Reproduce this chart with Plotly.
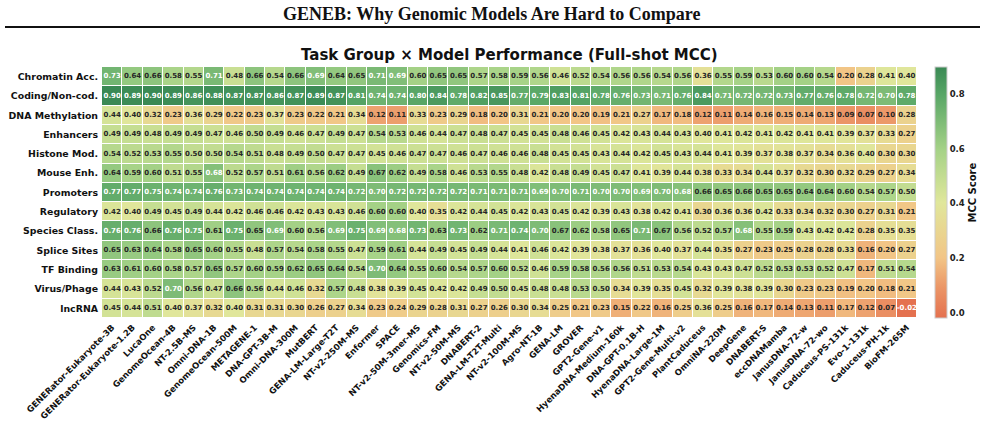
import plotly.graph_objects as go

models = ["GENERator-Eukaryote-3B", "GENERator-Eukaryote-1.2B", "LucaOne", "GenomeOcean-4B",
          "NT-2.5B-MS", "Omni-DNA-1B", "GenomeOcean-500M", "METAGENE-1", "DNA-GPT-3B-M",
          "Omni-DNA-300M", "MutBERT", "GENA-LM-Large-T2T", "NT-v2-250M-MS", "Enformer", "SPACE",
          "NT-v2-50M-3mer-MS", "Genomics-FM", "NT-v2-50M-MS", "DNABERT-2", "GENA-LM-T2T-Multi",
          "NT-v2-100M-MS", "Agro-NT-1B", "GENA-LM", "GROVER", "GPT2-Gene-v1",
          "HyenaDNA-Medium-160k", "DNA-GPT-0.1B-H", "HyenaDNA-Large-1M", "GPT2-Gene-Multi-v2",
          "PlantCaduceus", "OmniNA-220M", "DeepGene", "DNABERT-S", "eccDNAMamba",
          "JanusDNA-72-w", "JanusDNA-72-wo", "Caduceus-PS-131k", "Evo-1-131k",
          "Caduceus-PH-1k", "BioFM-265M"]

tasks = ["Chromatin Acc.", "Coding/Non-cod.", "DNA Methylation", "Enhancers", "Histone Mod.",
         "Mouse Enh.", "Promoters", "Regulatory", "Species Class.", "Splice Sites",
         "TF Binding", "Virus/Phage", "lncRNA"]

chromatin = [0.73,0.64,0.66,0.58,0.55,0.71,0.48,0.66, 0.54,0.66,0.69,0.64,0.65,0.71,0.69,0.60,0.65,0.65,
             0.57,0.58,0.59,0.56,0.46,0.52,0.54,0.56,0.56,0.54,0.56, 0.36,0.55,0.59,0.53,0.60,0.60,0.54,0.20,0.28,0.41,0.40]
coding = [0.90,0.89,0.90,0.89,0.86,0.88,0.87,0.87, 0.86,0.87,0.89,0.87,0.81,0.74,0.74,0.80,0.84,0.78,
          0.82,0.85,0.77,0.79,0.83,0.81,0.78,0.76,0.73,0.71,0.76, 0.84,0.71,0.72,0.72,0.73,0.77,0.76,0.78,0.72,0.70,0.78]
methyl = [0.44,0.40,0.32,0.23,0.36,0.29,0.22,0.23, 0.37,0.23,0.22,0.21,0.34,0.12,0.11,0.33,0.23,0.29,
          0.18,0.20,0.31,0.21,0.20,0.20,0.19,0.21,0.27,0.17,0.18, 0.12,0.11,0.14,0.16,0.15,0.14,0.13,0.09,0.07,0.10,0.28]
enhancers = [0.49,0.49,0.48,0.49,0.49,0.47,0.46,0.50, 0.49,0.46,0.47,0.49,0.47,0.54,0.53,0.46,0.44,0.47,
             0.48,0.47,0.45,0.45,0.48,0.46,0.45,0.42,0.43,0.44,0.43, 0.40,0.41,0.42,0.41,0.42,0.41,0.41,0.39,0.37,0.33,0.27]
histone = [0.54,0.52,0.53,0.55,0.50,0.50,0.54,0.51, 0.48,0.49,0.50,0.47,0.47,0.45,0.46,0.47,0.47,0.46,
           0.47,0.46,0.46,0.48,0.45,0.45,0.43,0.44,0.42,0.45,0.43, 0.44,0.41,0.39,0.37,0.38,0.37,0.34,0.36,0.40,0.30,0.30]
mouse = [0.64,0.59,0.60,0.51,0.55,0.68,0.52,0.57, 0.51,0.61,0.56,0.62,0.49,0.67,0.62,0.49,0.58,0.46,
         0.53,0.55,0.48,0.42,0.48,0.49,0.45,0.47,0.41,0.39,0.44, 0.38,0.33,0.34,0.44,0.37,0.32,0.30,0.32,0.29,0.27,0.34]
promoters = [0.77,0.77,0.75,0.74,0.74,0.76,0.73,0.74, 0.74,0.74,0.74,0.74,0.72,0.70,0.72,0.72,0.72,0.72,
             0.71,0.71,0.71,0.69,0.70,0.71,0.70,0.70,0.69,0.70,0.68, 0.66,0.65,0.66,0.65,0.65,0.64,0.64,0.60,0.54,0.57,0.50]
regulatory = [0.42,0.40,0.49,0.45,0.49,0.44,0.42,0.46, 0.46,0.42,0.43,0.43,0.46,0.60,0.60,0.40,0.35,0.42,
              0.44,0.45,0.42,0.43,0.45,0.42,0.39,0.43,0.38,0.42,0.41, 0.30,0.36,0.36,0.42,0.33,0.34,0.32,0.30,0.27,0.31,0.21]
species = [0.76,0.76,0.66,0.76,0.75,0.61,0.75,0.65, 0.69,0.60,0.56,0.69,0.75,0.69,0.68,0.73,0.63,0.73,
           0.62,0.71,0.74,0.70,0.67,0.62,0.58,0.65,0.71,0.67,0.56, 0.52,0.57,0.68,0.55,0.59,0.43,0.42,0.42,0.28,0.35,0.35]
splice = [0.65,0.63,0.64,0.58,0.65,0.60,0.55,0.48, 0.57,0.54,0.58,0.55,0.47,0.59,0.61,0.44,0.49,0.45,
          0.49,0.44,0.41,0.46,0.42,0.39,0.38,0.37,0.36,0.40,0.37, 0.44,0.35,0.27,0.23,0.25,0.28,0.28,0.33,0.16,0.20,0.27]
tf_binding = [0.63,0.61,0.60,0.58,0.57,0.65,0.57,0.60, 0.59,0.62,0.65,0.64,0.54,0.70,0.64,0.55,0.60,0.54,
              0.57,0.60,0.52,0.46,0.59,0.58,0.56,0.56,0.51,0.53,0.54, 0.43,0.43,0.47,0.52,0.53,0.53,0.52,0.47,0.17,0.51,0.54]
virus = [0.44,0.43,0.52,0.70,0.56,0.47,0.66,0.56, 0.44,0.46,0.32,0.57,0.48,0.38,0.39,0.45,0.42,0.42,
         0.49,0.50,0.45,0.48,0.48,0.53,0.50,0.34,0.39,0.35,0.45, 0.32,0.39,0.38,0.39,0.30,0.23,0.23,0.19,0.20,0.18,0.21]
lncrna = [0.45,0.44,0.51,0.40,0.37,0.32,0.40,0.31, 0.31,0.30,0.26,0.27,0.34,0.23,0.24,0.29,0.28,0.31,
          0.27,0.26,0.30,0.34,0.25,0.21,0.23,0.15,0.22,0.16,0.25, 0.36,0.25,0.16,0.17,0.14,0.13,0.11,0.17,0.12,0.07,-0.02]

z = [chromatin, coding, methyl, enhancers, histone, mouse, promoters, regulatory,
     species, splice, tf_binding, virus, lncrna]

zmin, zmax = -0.02, 0.90
colorscale = [
    [0.0, "#e4714f"],
    [0.12, "#eb9566"],
    [0.24, "#f2c586"],
    [0.46, "#e0e79b"],
    [0.67, "#a5d287"],
    [0.89, "#58a666"],
    [1.0, "#3a8954"],
]

fig = go.Figure()
fig.add_trace(go.Heatmap(
    z=z, x=models, y=tasks, zmin=zmin, zmax=zmax, colorscale=colorscale,
    xgap=1, ygap=1, hoverinfo="skip",
    colorbar=dict(
        x=(935 - 102) / 815, xanchor="left", xpad=0, y=0.5, yanchor="middle",
        len=1.0, lenmode="fraction", ypad=0,
        thickness=12, outlinewidth=1, outlinecolor="#cccccc",
        tickvals=[0.0, 0.2, 0.4, 0.6, 0.8],
        ticktext=["<b>0.0</b>", "<b>0.2</b>", "<b>0.4</b>", "<b>0.6</b>", "<b>0.8</b>"],
        ticks="",
        tickfont=dict(family="DejaVu Sans", size=8.5, color="#222"),
    ),
))

tx, ty, tt, tc = [], [], [], []
for task, row in zip(tasks, z):
    for m, v in zip(models, row):
        tx.append(m)
        ty.append(task)
        tt.append("<b>%.2f</b>" % v)
        tc.append("white" if (v >= 0.68 or v < 0) else "#262626")

fig.add_trace(go.Scatter(
    x=tx, y=ty, text=tt, mode="text", hoverinfo="skip", showlegend=False,
    textfont=dict(family="DejaVu Sans", size=7, color=tc),
))

fig.update_xaxes(tickangle=-45, tickfont=dict(family="DejaVu Sans", size=8.5, color="#111"),
                 ticklabelstandoff=2, showgrid=False, zeroline=False, ticks="",
                 tickprefix="<b>", ticksuffix="</b>", automargin=False,
                 range=[-0.5, len(models) - 0.5])
fig.update_yaxes(tickfont=dict(family="DejaVu Sans", size=9.4, color="#111"),
                 showgrid=False, zeroline=False, ticks="", tickprefix="<b>", ticksuffix="</b>",
                 ticklabelstandoff=3, automargin=False,
                 range=[len(tasks) - 0.5, -0.5])

fig.update_layout(
    width=985, height=438,
    margin=dict(l=102, r=68, t=67, b=120, autoexpand=False),
    paper_bgcolor="white", plot_bgcolor="white",
    showlegend=False,
    annotations=[
        dict(text="<b>GENEB: Why Genomic Models Are Hard to Compare</b>", xref="paper", yref="paper",
             x=(492 - 102) / 815, y=(318 - 14) / 251, xanchor="center", yanchor="middle",
             showarrow=False, font=dict(family="Liberation Serif", size=18, color="#111")),
        dict(text="<b>Task Group × Model Performance (Full-shot MCC)</b>", xref="paper", yref="paper",
             x=0.5, y=(318 - 55) / 251, xanchor="center", yanchor="middle",
             showarrow=False, font=dict(family="DejaVu Sans", size=15, color="#111")),
        dict(text="<b>MCC Score</b>", xref="paper", yref="paper",
             x=(972 - 102) / 815, y=0.5, xanchor="center", yanchor="middle", textangle=-90,
             showarrow=False, font=dict(family="DejaVu Sans", size=10, color="#111")),
    ],
    shapes=[
        dict(type="line", xref="paper", yref="paper",
             x0=(5 - 102) / 815, x1=(980 - 102) / 815,
             y0=(318 - 27) / 251, y1=(318 - 27) / 251,
             line=dict(color="#111", width=2)),
    ],
)

fig.write_html("out.html")
